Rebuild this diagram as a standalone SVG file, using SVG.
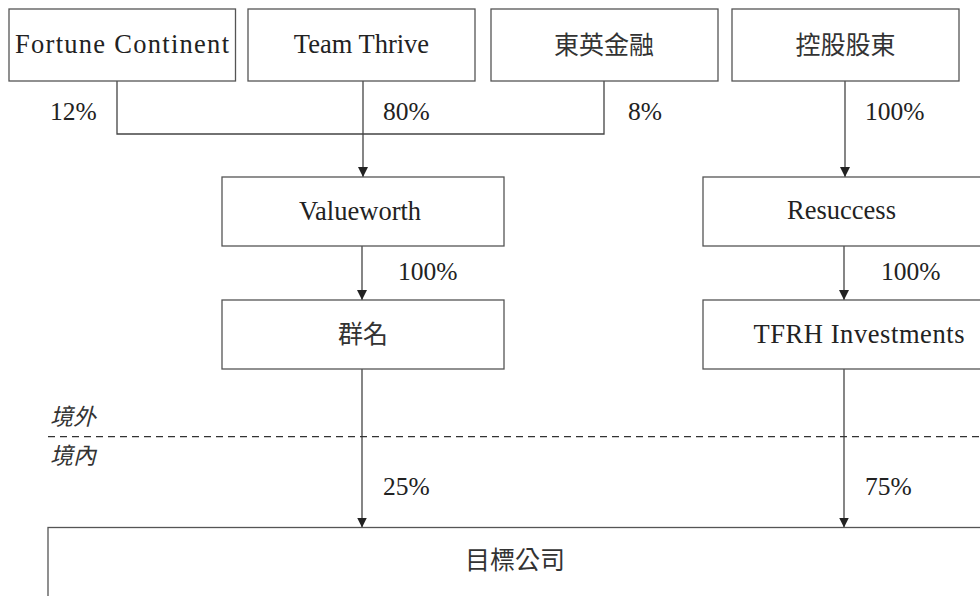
<svg xmlns="http://www.w3.org/2000/svg" width="980" height="596" viewBox="0 0 980 596">
<defs>
<style>
.box{fill:#fff;stroke:#555;stroke-width:1.3}
.t{font-family:"Liberation Serif","DejaVu Serif","Noto Sans CJK TC",serif;font-size:26.5px;fill:#222;text-anchor:middle}
.c{font-family:"Noto Sans CJK TC","Noto Sans CJK SC",sans-serif;font-size:25px;fill:#333;text-anchor:middle}
.p{font-family:"Liberation Serif","DejaVu Serif",serif;font-size:25.5px;fill:#222}
.i{font-family:"Noto Sans CJK TC","Noto Sans CJK SC",sans-serif;font-size:23px;fill:#333;font-style:italic}
.ln{fill:none;stroke:#444;stroke-width:1.3}
</style>
<marker id="ah" viewBox="0 0 10 10" refX="10" refY="5" markerWidth="10" markerHeight="10" markerUnits="userSpaceOnUse" orient="auto">
<path d="M0,0 L10,5 L0,10 Z" fill="#222"/>
</marker>
</defs>
<rect width="980" height="596" fill="#fff"/>
<g id="connectors">
<path class="ln" d="M117,81 V134 H604 V81"/>
<path class="ln" d="M363,81 V177" marker-end="url(#ah)"/>
<path class="ln" d="M845,81 V177" marker-end="url(#ah)"/>
<path class="ln" d="M362,246 V300" marker-end="url(#ah)"/>
<path class="ln" d="M844,246 V300" marker-end="url(#ah)"/>
<path class="ln" d="M362,369 V527.5" marker-end="url(#ah)"/>
<path class="ln" d="M844,369 V527.5" marker-end="url(#ah)"/>
<line x1="48" y1="436.7" x2="980" y2="436.7" stroke="#333" stroke-width="1.3" stroke-dasharray="7,5"/>
<text class="p" x="50" y="120">12%</text>
<text class="p" x="383" y="120">80%</text>
<text class="p" x="628" y="120">8%</text>
<text class="p" x="865" y="120">100%</text>
<text class="p" x="398" y="280">100%</text>
<text class="p" x="881" y="280">100%</text>
<text class="p" x="383" y="495">25%</text>
<text class="p" x="865" y="495">75%</text>
<text class="i" x="50" y="425">境外</text>
<text class="i" x="50" y="464">境內</text>
</g>
<g id="fortune"><rect class="box" x="9" y="9" width="226.5" height="72"/><text class="t" x="122" y="53" textLength="214" lengthAdjust="spacing">Fortune Continent</text></g>
<g id="teamthrive"><rect class="box" x="248" y="9" width="227" height="72"/><text class="t" x="361.5" y="53">Team Thrive</text></g>
<g id="dongying"><rect class="box" x="491" y="9" width="227" height="72"/><text class="c" x="604" y="53.5">東英金融</text></g>
<g id="controlling"><rect class="box" x="732" y="9" width="227" height="72"/><text class="c" x="845.5" y="53.5">控股股東</text></g>
<g id="valueworth"><rect class="box" x="222" y="177" width="282" height="69"/><text class="t" x="360" y="220">Valueworth</text></g>
<g id="resuccess"><rect class="box" x="703" y="177" width="282" height="69"/><text class="t" x="841.5" y="219">Resuccess</text></g>
<g id="qunming"><rect class="box" x="222" y="300" width="282" height="69"/><text class="c" x="363" y="342.5">群名</text></g>
<g id="tfrh"><rect class="box" x="703" y="300" width="282" height="69"/><text class="t" x="859" y="343" textLength="211" lengthAdjust="spacing">TFRH Investments</text></g>
<g id="target"><rect class="box" x="48" y="527.5" width="940" height="80"/><text class="c" x="515" y="569">目標公司</text></g>
</svg>
